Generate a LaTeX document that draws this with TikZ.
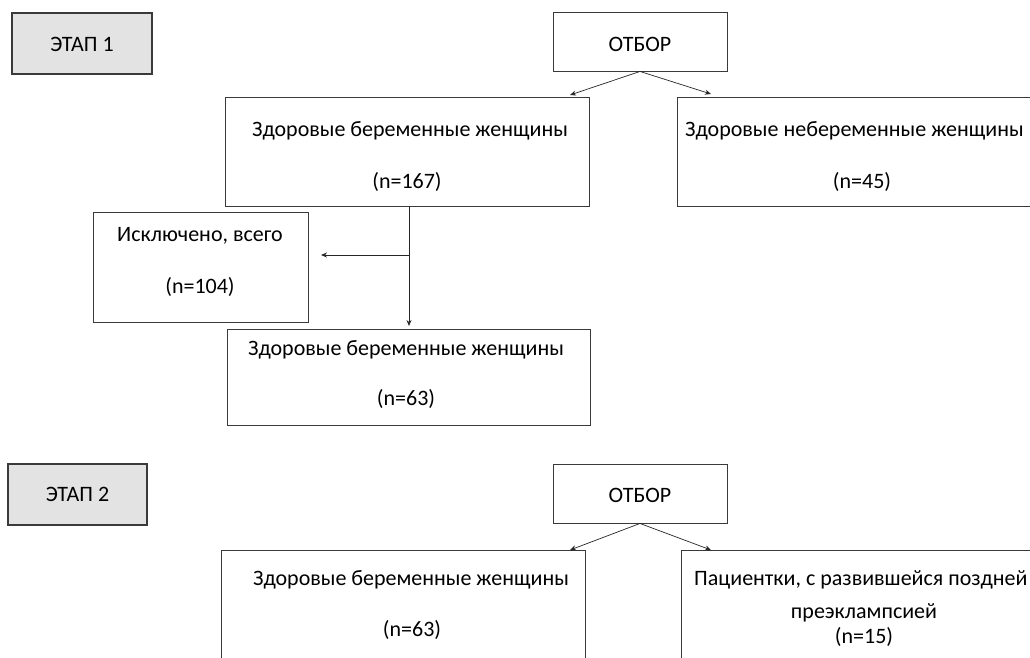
\documentclass[tikz,border=0pt]{standalone}
\usepackage{fontspec}
\setmainfont{Carlito}
\usetikzlibrary{arrows.meta}
\definecolor{stagefill}{HTML}{E3E3E3}
\definecolor{edge}{HTML}{3A3A3A}
\tikzset{
  box/.style={draw=edge, line width=0.9pt, fill=white, inner sep=0pt},
  stagebox/.style={draw=edge, line width=1.1pt, fill=stagefill, inner sep=0pt},
  lbl/.style={anchor=base, inner sep=0pt, font=\fontsize{22}{26}\selectfont, text=black},
  conn/.style={draw=black!85, line width=0.7pt, -{Stealth[length=6pt,width=5pt]}},
  plain/.style={draw=black!85, line width=0.7pt}
}
\begin{document}
\begin{tikzpicture}[x=1pt,y=-1pt]
\useasboundingbox (0,0) rectangle (1030,657);
\clip (0,0) rectangle (1030,657);
\fill[white] (0,0) rectangle (1030,657);

% ---- STAGE 1 ----
\node[stagebox, minimum width=140pt, minimum height=61pt] (st1) at (82,43.5) {};
\node[lbl] (st1t) at (82,51) {ЭТАП 1};

\node[box, minimum width=174pt, minimum height=59pt] (ot1) at (640,41.5) {};
\node[lbl] (ot1t) at (640,51) {ОТБОР};

\node[box, minimum width=364pt, minimum height=109pt] (hp1) at (407,151.5) {};
\node[lbl] (hp1a) at (410,136) {Здоровые беременные женщины};
\node[lbl] (hp1b) at (407,188) {(n=167)};

\node[box, minimum width=390pt, minimum height=109pt] (hnp) at (872,151.5) {};
\node[lbl, anchor=base west] (hnpa) at (685,136) {Здоровые небеременные женщины};
\node[lbl] (hnpb) at (862,188) {(n=45)};

\node[box, minimum width=215pt, minimum height=110pt] (exc) at (200.5,267) {};
\node[lbl] (exca) at (200,241) {Исключено, всего};
\node[lbl] (excb) at (200,293) {(n=104)};

\node[box, minimum width=363pt, minimum height=96pt] (hp2) at (408.5,377) {};
\node[lbl] (hp2a) at (406,355) {Здоровые беременные женщины};
\node[lbl] (hp2b) at (406,405) {(n=63)};

\coordinate (a1l) at (570,95);
\coordinate (a1r) at (711,94);
\draw[conn] (ot1.south) -- (a1l);
\draw[conn] (ot1.south) -- (a1r);

\coordinate (vsrc) at (409,206);
\coordinate (vbr) at (409,255);
\coordinate (vend) at (409,326);
\coordinate (hend) at (321,255);
\draw[conn] (hp1.south -| vsrc) -- (vend);
\draw[conn] (vbr) -- (hend);

% ---- STAGE 2 ----
\node[stagebox, minimum width=139pt, minimum height=61pt] (st2) at (77.5,494.5) {};
\node[lbl] (st2t) at (77.5,501) {ЭТАП 2};

\node[box, minimum width=174pt, minimum height=59pt] (ot2) at (640,493.5) {};
\node[lbl] (ot2t) at (640,502) {ОТБОР};

\node[box, minimum width=364pt, minimum height=130pt] (hp3) at (403,615) {};
\node[lbl] (hp3a) at (411,585) {Здоровые беременные женщины};
\node[lbl] (hp3b) at (412,636) {(n=63)};

\node[box, minimum width=390pt, minimum height=130pt] (pe) at (876,615) {};
\node[lbl, anchor=base west] (pea) at (694,585) {Пациентки, с развившейся поздней};
\node[lbl] (peb) at (864,618) {преэклампсией};
\node[lbl] (pec) at (864,643) {(n=15)};

\coordinate (a2l) at (570,550);
\coordinate (a2r) at (711,550);
\draw[conn] (ot2.south) -- (a2l);
\draw[conn] (ot2.south) -- (a2r);
\end{tikzpicture}
\end{document}
